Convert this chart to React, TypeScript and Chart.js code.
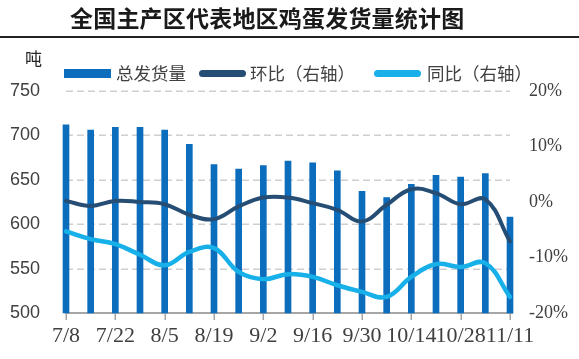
import React, { useEffect, useRef } from 'react';
import { Chart, registerables } from 'chart.js';

Chart.register(...registerables);

const title = '全国主产区代表地区鸡蛋发货量统计图';
const unitLabel = '吨';
const seriesNames = ['总发货量', '环比（右轴）', '同比（右轴）'];

const categories = ['7/8', '7/15', '7/22', '7/29', '8/5', '8/12', '8/19', '8/26', '9/2', '9/9', '9/16', '9/23', '9/30', '10/7', '10/14', '10/21', '10/28', '11/4', '11/11'];
const shipments = [712, 706, 709, 709, 706, 690, 667, 662, 666, 671, 669, 660, 637, 630, 645, 655, 653, 657, 608];
const momPct = [0.2, -0.7, 0.2, 0, -0.4, -2.3, -3.1, -0.8, 0.8, 0.8, -0.2, -1.4, -3.5, -0.5, 2.3, 1.6, -0.4, 0.5, -7.1];
const yoyPct = [-5.3, -6.7, -7.6, -9.5, -11.4, -9.0, -8.3, -12.6, -13.9, -13.0, -13.5, -15.0, -16.2, -17.1, -13.5, -11.2, -11.7, -11.0, -17.1];
const leftTicks = [500, 550, 600, 650, 700, 750];
const rightTicks = [-20, -10, 0, 10, 20];

const BAR = '#0b6dbb';
const DARK = '#264d73';
const LIGHT = '#17b0e8';
const TEXT = '#404040';
const GRID = '#cfcfcf';
const AXIS = '#a6a6a6';

const gridPlugin = {
  id: 'refGrid',
  beforeDatasetsDraw(chart: any) {
    const { ctx, chartArea, scales } = chart;
    const y = scales.y;
    const x = scales.x;
    ctx.save();
    ctx.strokeStyle = GRID;
    ctx.lineWidth = 1.5;
    ctx.setLineDash([7, 4]);
    leftTicks.slice(1).forEach((v) => {
      const py = Math.round(y.getPixelForValue(v)) + 0.25;
      ctx.beginPath();
      ctx.moveTo(chartArea.left, py);
      ctx.lineTo(chartArea.right, py);
      ctx.stroke();
    });
    ctx.setLineDash([]);
    ctx.strokeStyle = AXIS;
    ctx.lineWidth = 2;
    const by = Math.round(y.getPixelForValue(leftTicks[0]));
    ctx.beginPath();
    ctx.moveTo(chartArea.left - 1, by);
    ctx.lineTo(chartArea.right + 3, by);
    ctx.stroke();
    ctx.lineWidth = 1.5;
    categories.forEach((_c, i) => {
      if (i % 2 !== 0) return;
      const px = Math.round(x.getPixelForValue(i)) + 0.25;
      ctx.beginPath();
      ctx.moveTo(px, by);
      ctx.lineTo(px, by + 7);
      ctx.stroke();
    });
    ctx.restore();
  },
};

export default function App() {
  const ref = useRef<HTMLCanvasElement | null>(null);

  useEffect(() => {
    if (!ref.current) return;
    const chart = new Chart(ref.current, {
      type: 'bar',
      data: {
        labels: categories,
        datasets: [
          {
            type: 'bar',
            label: seriesNames[0],
            data: shipments,
            yAxisID: 'y',
            backgroundColor: BAR,
            barThickness: 6,
            base: leftTicks[0],
            order: 3,
            clip: false,
          } as any,
          {
            type: 'line',
            label: seriesNames[1],
            data: momPct,
            yAxisID: 'y1',
            borderColor: DARK,
            borderWidth: 4,
            tension: 0.4,
            pointRadius: 0,
            order: 1,
            clip: false,
            borderCapStyle: 'round',
            borderJoinStyle: 'round',
          } as any,
          {
            type: 'line',
            label: seriesNames[2],
            data: yoyPct,
            yAxisID: 'y1',
            borderColor: LIGHT,
            borderWidth: 4.5,
            tension: 0.4,
            pointRadius: 0,
            order: 2,
            clip: false,
            borderCapStyle: 'round',
            borderJoinStyle: 'round',
          } as any,
        ],
      },
      options: {
        animation: false,
        responsive: false,
        layout: { padding: { top: 91, left: 0, right: 0, bottom: 0 } },
        plugins: {
          legend: { display: false },
          tooltip: { enabled: false },
          title: { display: false },
        },
        scales: {
          x: {
            type: 'category',
            offset: false,
            grid: { display: false, drawTicks: false },
            border: { display: false },
            ticks: {
              autoSkip: false,
              maxRotation: 0,
              minRotation: 0,
              padding: 10,
              color: TEXT,
              font: { family: 'Liberation Serif', size: 22 },
              callback: (_v: any, i: number) => (i % 2 === 0 ? categories[i] : ''),
            },
            afterFit: (s: any) => {
              s.height = 46;
            },
          },
          y: {
            type: 'linear',
            position: 'left',
            min: 500,
            max: 750,
            afterBuildTicks: (s: any) => {
              s.ticks = leftTicks.map((v) => ({ value: v }));
            },
            grid: { display: false, drawTicks: false },
            border: { display: false },
            ticks: {
              padding: 26,
              color: TEXT,
              font: { family: 'Liberation Sans', size: 18 },
            },
            afterFit: (s: any) => {
              s.width = 66;
            },
          },
          y1: {
            type: 'linear',
            position: 'right',
            min: -20,
            max: 20,
            afterBuildTicks: (s: any) => {
              s.ticks = rightTicks.map((v) => ({ value: v }));
            },
            grid: { display: false, drawTicks: false },
            border: { display: false },
            ticks: {
              padding: 19,
              color: TEXT,
              font: { family: 'Liberation Serif', size: 18 },
              callback: (v: any) => `${v}%`,
            },
            afterFit: (s: any) => {
              s.width = 69;
            },
          },
        },
      } as any,
      plugins: [gridPlugin],
    });
    return () => chart.destroy();
  }, []);

  const cjk = '"Noto Sans CJK SC", "Noto Sans", sans-serif';
  const legendText: React.CSSProperties = {
    position: 'absolute',
    top: 62,
    fontFamily: cjk,
    fontSize: 17.5,
    lineHeight: '22px',
    color: TEXT,
    whiteSpace: 'nowrap',
  };
  const swatch = (left: number, color: string, round: boolean): React.CSSProperties => ({
    position: 'absolute',
    left,
    top: round ? 69.5 : 68.5,
    width: 47,
    height: round ? 7 : 9,
    borderRadius: round ? 4 : 0,
    background: color,
  });

  return (
    <div style={{ position: 'fixed', left: 0, top: 0, width: 579, height: 359, background: '#fff', overflow: 'hidden' }}>
      <canvas ref={ref} width={579} height={359} style={{ position: 'absolute', left: 0, top: 0 }} />
      <div
        style={{
          position: 'absolute',
          left: 70,
          top: 3,
          fontFamily: cjk,
          fontWeight: 700,
          fontSize: 23,
          lineHeight: '28px',
          letterSpacing: 0.2,
          color: '#1a1a1a',
          whiteSpace: 'nowrap',
        }}
      >
        {title}
      </div>
      <div style={{ position: 'absolute', left: 0, top: 36, width: 579, height: 1.5, background: '#222' }} />
      <div
        style={{
          position: 'absolute',
          left: 25,
          top: 47,
          fontFamily: cjk,
          fontSize: 17,
          lineHeight: '22px',
          color: '#262626',
        }}
      >
        {unitLabel}
      </div>
      <div style={swatch(64, BAR, false)} />
      <div style={{ ...legendText, left: 116 }}>{seriesNames[0]}</div>
      <div style={swatch(199, DARK, true)} />
      <div style={{ ...legendText, left: 250 }}>{seriesNames[1]}</div>
      <div style={swatch(374, LIGHT, true)} />
      <div style={{ ...legendText, left: 427 }}>{seriesNames[2]}</div>
    </div>
  );
}
